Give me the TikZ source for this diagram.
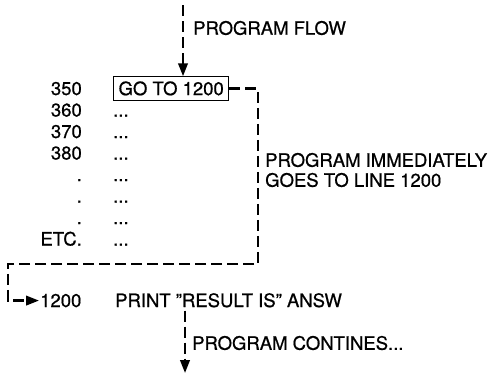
\documentclass[tikz,border=0pt]{standalone}
\usepackage{fontspec}
\setmainfont{TeX Gyre Heros}[BoldFont=TeX Gyre Heros, BoldFeatures={FakeBold=0.7}]
\usetikzlibrary{positioning,arrows.meta,calc}
\tikzset{
  >={Triangle[length=13pt,width=9.5pt]},
  every node/.style={font=\fontsize{18.5}{20}\selectfont\bfseries, inner sep=0pt},
  % --- nodes
  num/.style   = {anchor=base east},
  stmt/.style  = {anchor=base west},
  gobox/.style = {draw, line width=1.2pt, inner xsep=5pt, inner ysep=5pt,
                  text height=13.3pt, text depth=0pt, anchor=west},
  lbl/.style   = {anchor=west, align=left},
  % --- edges
  jump/.style  = {line width=2.3pt, dash pattern=on 11pt off 5pt},
  flow/.style  = {jump, ->},
}
\begin{document}
\begin{tikzpicture}[x=1pt,y=-1pt]
  \useasboundingbox (0,0) rectangle (503,376);

  \node[gobox] (goto) at (113,88.5) {GO TO 1200};
  \node[num] (n350) at (82,95) {350};
  \node[num] (n360) at (82,116.5) {360};
  \node[num] (n370) at (82,138) {370};
  \node[num] (n380) at (82,159.5) {380};
  \node[num] (d1) at (82,181) {.};
  \node[num] (d2) at (82,202.5) {.};
  \node[num] (d3) at (82,224) {.};
  \node[num] (etc) at (82,245.5) {ETC.};

  \node[stmt] (s360) at (113,116.5) {...};
  \node[stmt] (s370) at (113,138) {...};
  \node[stmt] (s380) at (113,159.5) {...};
  \node[stmt] (s1) at (113,181) {...};
  \node[stmt] (s2) at (113,202.5) {...};
  \node[stmt] (s3) at (113,224) {...};
  \node[stmt] (setc) at (113,245.5) {...};

  \node[stmt, inner xsep=1pt] (n1200) at (39,307) {1200};
  \node[stmt] (print) at (115,307) {PRINT "RESULT IS" ANSW};

  \node[lbl] (flowlbl) at (193,28) {PROGRAM FLOW};
  \node[lbl] (jumplbl) at (265,170) {PROGRAM IMMEDIATELY\\GOES TO LINE 1200};
  \node[lbl] (contlbl) at (192,343) {PROGRAM CONTINES...};

  \coordinate (start) at (183,5);
  \coordinate (turn) at (258,264);
  \coordinate (back) at (8,264);
  \coordinate (finish) at (185,373);

  \draw[flow] (start) -- (start |- goto.north);
  \draw[flow] (goto.east) -| (turn) -- (back) |- (n1200.west);
  \draw[flow] ($(print.south -| finish)+(0,3)$) -- (finish);
\end{tikzpicture}
\end{document}
